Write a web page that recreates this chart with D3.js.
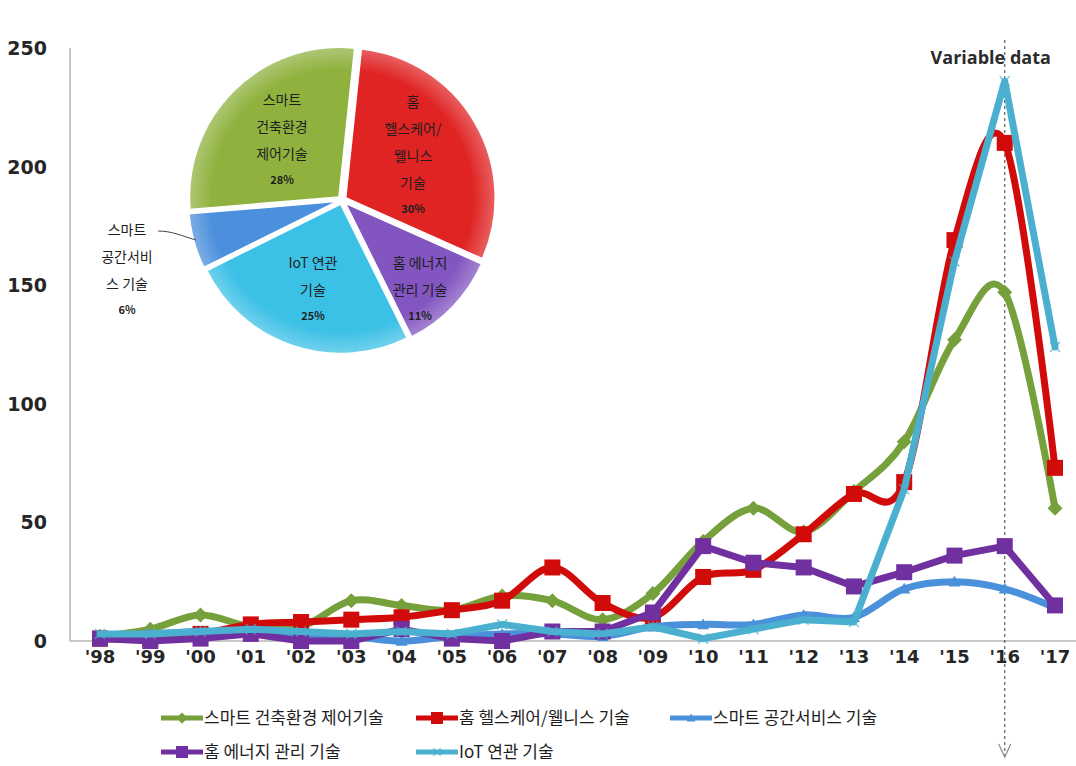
<!DOCTYPE html>
<html>
<head>
<meta charset="utf-8">
<script src="https://cdn.jsdelivr.net/npm/d3@7"></script>
<style>
  html, body { margin: 0; padding: 0; background: #fff; }
  svg { display: block; }
  .num { font-family: "DejaVu Sans", "Liberation Sans", sans-serif; font-weight: bold; fill: #262626; }
  .kr { font-family: "Noto Sans CJK KR", "Noto Sans", sans-serif; fill: #1e1e1e; }
</style>
</head>
<body>
<svg id="chart" width="1076" height="766"></svg>
<script>
// Yearly counts per technology field, '98 – '17
const years = ["'98","'99","'00","'01","'02","'03","'04","'05","'06","'07","'08","'09","'10","'11","'12","'13","'14","'15","'16","'17"];
const yTicks = [0, 50, 100, 150, 200, 250];

const buildingControl = [2, 5, 11, 6, 6, 17, 15, 13, 19, 17, 9, 20, 42, 56, 46, 63, 84, 127, 147, 56];
const healthWellness  = [1, 1, 3, 7, 8, 9, 10, 13, 17, 31, 16, 10, 27, 30, 45, 62, 67, 169, 210, 73];
const spaceService    = [2, 3, 4, 4, 3, 2, 0, 2, 3, 3, 2, 6, 7, 7, 11, 10, 22, 25, 22, 14];
const energyMgmt      = [1, 0, 1, 3, 0, 0, 5, 1, 0, 4, 4, 12, 40, 33, 31, 23, 29, 36, 40, 15];
const iotRelated      = [3, 3, 4, 5, 4, 3, 4, 3, 7, 4, 3, 6, 1, 5, 9, 8, 64, 160, 236, 124];

const seriesNames = ["스마트 건축환경 제어기술", "홈 헬스케어/웰니스 기술", "스마트 공간서비스 기술", "홈 에너지 관리 기술", "IoT 연관 기술"];

// Share of each field (inset pie), clockwise from the top
const pieNames   = ["홈 헬스케어/웰니스 기술", "홈 에너지 관리 기술", "IoT 연관 기술", "스마트 공간서비스 기술", "스마트 건축환경 제어기술"];
const pieShares  = [30, 11, 25, 6, 28];
const pieLabels  = [["홈", "헬스케어/", "웰니스", "기술"], ["홈 에너지", "관리 기술"], ["IoT 연관", "기술"], ["스마트", "공간서비", "스 기술"], ["스마트", "건축환경", "제어기술"]];

const svg = d3.select("#chart");
const defs = svg.append("defs");

const x = d3.scalePoint().domain(years).range([100, 1055]);
const y = d3.scaleLinear().domain([0, 250]).range([641, 48]);

// axes
svg.append("line").attr("x1", 70).attr("x2", 70).attr("y1", y(250)).attr("y2", y(0))
  .attr("stroke", "#b4b4b4").attr("stroke-width", 1.5);
svg.append("line").attr("x1", 70).attr("x2", 1076).attr("y1", y(0)).attr("y2", y(0))
  .attr("stroke", "#b4b4b4").attr("stroke-width", 1.5);

svg.append("g").selectAll("text").data(yTicks).join("text")
  .attr("class", "num").attr("x", 47).attr("y", d => y(d) + 7)
  .attr("text-anchor", "end").attr("font-size", 19).text(d => d);

svg.append("g").selectAll("text").data(years).join("text")
  .attr("class", "num").attr("x", d => x(d)).attr("y", 663)
  .attr("text-anchor", "middle").attr("font-size", 18).text(d => d);

// "Variable data" marker at '16
const vx = x("'16");
svg.append("line").attr("x1", vx).attr("x2", vx).attr("y1", 40).attr("y2", 757)
  .attr("stroke", "#5a5a5a").attr("stroke-width", 1.2).attr("stroke-dasharray", "3,3");
svg.append("path")
  .attr("d", `M${vx - 6},${744} L${vx},${757} L${vx + 6},${744}`)
  .attr("fill", "none").attr("stroke", "#8a8a8a").attr("stroke-width", 1.2);
svg.append("text").attr("x", vx - 14).attr("y", 64).attr("text-anchor", "middle")
  .attr("font-family", "'Open Sans', 'DejaVu Sans', sans-serif").attr("font-weight", "bold")
  .attr("font-size", 18).attr("fill", "#2b2b2b").text("Variable data");

// line series (drawn in this order, later on top)
const series = [
  { name: seriesNames[0], values: buildingControl, color: "#76a03c", marker: "diamond", smooth: true },
  { name: seriesNames[1], values: healthWellness,  color: "#d10a0a", marker: "square",  smooth: true },
  { name: seriesNames[2], values: spaceService,    color: "#4a90da", marker: "triangle", smooth: true },
  { name: seriesNames[3], values: energyMgmt,      color: "#7030a0", marker: "square",  smooth: false },
  { name: seriesNames[4], values: iotRelated,      color: "#4bb0cf", marker: "cross",   smooth: false }
];

function drawMarker(g, type, color, size) {
  const s = size;
  if (type === "diamond") {
    g.append("path").attr("d", `M0,${-s}L${s},0L0,${s}L${-s},0Z`).attr("fill", color);
  } else if (type === "square") {
    g.append("rect").attr("x", -s).attr("y", -s).attr("width", 2 * s).attr("height", 2 * s).attr("fill", color);
  } else if (type === "triangle") {
    g.append("path").attr("d", `M0,${-s}L${s},${s * 0.8}L${-s},${s * 0.8}Z`).attr("fill", color);
  } else if (type === "cross") {
    g.append("path").attr("d", `M${-s},${-s}L${s},${s}M${-s},${s}L${s},${-s}`)
      .attr("stroke", color).attr("stroke-width", 1.5).attr("opacity", 0.7);
  }
}
const markerSize = { diamond: 7.5, square: 8, triangle: 6, cross: 5 };

const plot = svg.append("g");
series.forEach(s => {
  const line = d3.line()
    .x((d, i) => x(years[i]))
    .y(d => y(d))
    .curve(s.smooth ? d3.curveCardinal.tension(0) : d3.curveLinear);
  plot.append("path").datum(s.values).attr("d", line)
    .attr("fill", "none").attr("stroke", s.color).attr("stroke-width", 7)
    .attr("stroke-linejoin", "round").attr("stroke-linecap", "round");
  s.values.forEach((v, i) => {
    const g = plot.append("g").attr("transform", `translate(${x(years[i])},${y(v)})`);
    drawMarker(g, s.marker, s.color, markerSize[s.marker]);
  });
});

// legend
const legendPos = [[161, 718], [416, 718], [670, 718], [161, 752], [416, 752]];
series.forEach((s, i) => {
  const [lx, ly] = legendPos[i];
  const g = svg.append("g").attr("transform", `translate(${lx},${ly})`);
  g.append("line").attr("x1", 0).attr("x2", 42).attr("y1", 0).attr("y2", 0)
    .attr("stroke", s.color).attr("stroke-width", 5);
  const m = g.append("g").attr("transform", "translate(21,0)");
  drawMarker(m, s.marker, s.color, markerSize[s.marker] * 0.75);
  g.append("text").attr("class", "kr").attr("x", 43).attr("y", 6)
    .attr("font-size", 17).text(s.name);
});

// inset pie
const pieColors = ["#e02424", "#8255c0", "#3bc0e6", "#4c8fdc", "#8fb23f"];
const cx = 342, cy = 200, R = 150;
const start = 6 * Math.PI / 180;
const pie = d3.pie().sort(null).value(d => d).startAngle(start).endAngle(start + 2 * Math.PI);
const arcs = pie(pieShares);
const arc = d3.arc().innerRadius(0).outerRadius(R);
const pieG = svg.append("g").attr("transform", `translate(${cx},${cy})`);
const explode = 4;

// soft bevel: lighter rim on every slice
const rim = defs.append("radialGradient").attr("id", "rim")
  .attr("gradientUnits", "userSpaceOnUse").attr("cx", 0).attr("cy", 0).attr("r", R);
rim.append("stop").attr("offset", "0.85").attr("stop-color", "#fff").attr("stop-opacity", 0);
rim.append("stop").attr("offset", "1").attr("stop-color", "#fff").attr("stop-opacity", 0.28);

arcs.forEach((a, i) => {
  const mid = (a.startAngle + a.endAngle) / 2;
  const dx = Math.sin(mid) * explode, dy = -Math.cos(mid) * explode;
  const sg = pieG.append("g").attr("transform", `translate(${dx},${dy})`);
  sg.append("path").attr("d", arc(a))
    .attr("fill", pieColors[i]).attr("stroke", "#ffffff").attr("stroke-width", 2);
  sg.append("path").attr("d", arc(a)).attr("fill", "url(#rim)");
});

// pie labels
const labelPos = [[413, 102], [420, 263], [313, 263], [127, 230], [282, 100]];
arcs.forEach((a, i) => {
  const [lx, ly] = labelPos[i];
  const lines = pieLabels[i];
  const g = svg.append("g");
  lines.forEach((t, k) => {
    g.append("text").attr("class", "kr").attr("x", lx).attr("y", ly + k * 27 + 5)
      .attr("text-anchor", "middle").attr("font-size", 14).text(t);
  });
  g.append("text").attr("class", "kr").attr("x", lx).attr("y", ly + lines.length * 27 + 3)
    .attr("text-anchor", "middle").attr("font-size", 11).attr("font-weight", "bold")
    .text(pieShares[i] + "%");
});
// leader line for the small slice
svg.append("path").attr("d", "M158,231 C172,231 182,236 196,240")
  .attr("fill", "none").attr("stroke", "#444").attr("stroke-width", 1);
</script>
</body>
</html>
